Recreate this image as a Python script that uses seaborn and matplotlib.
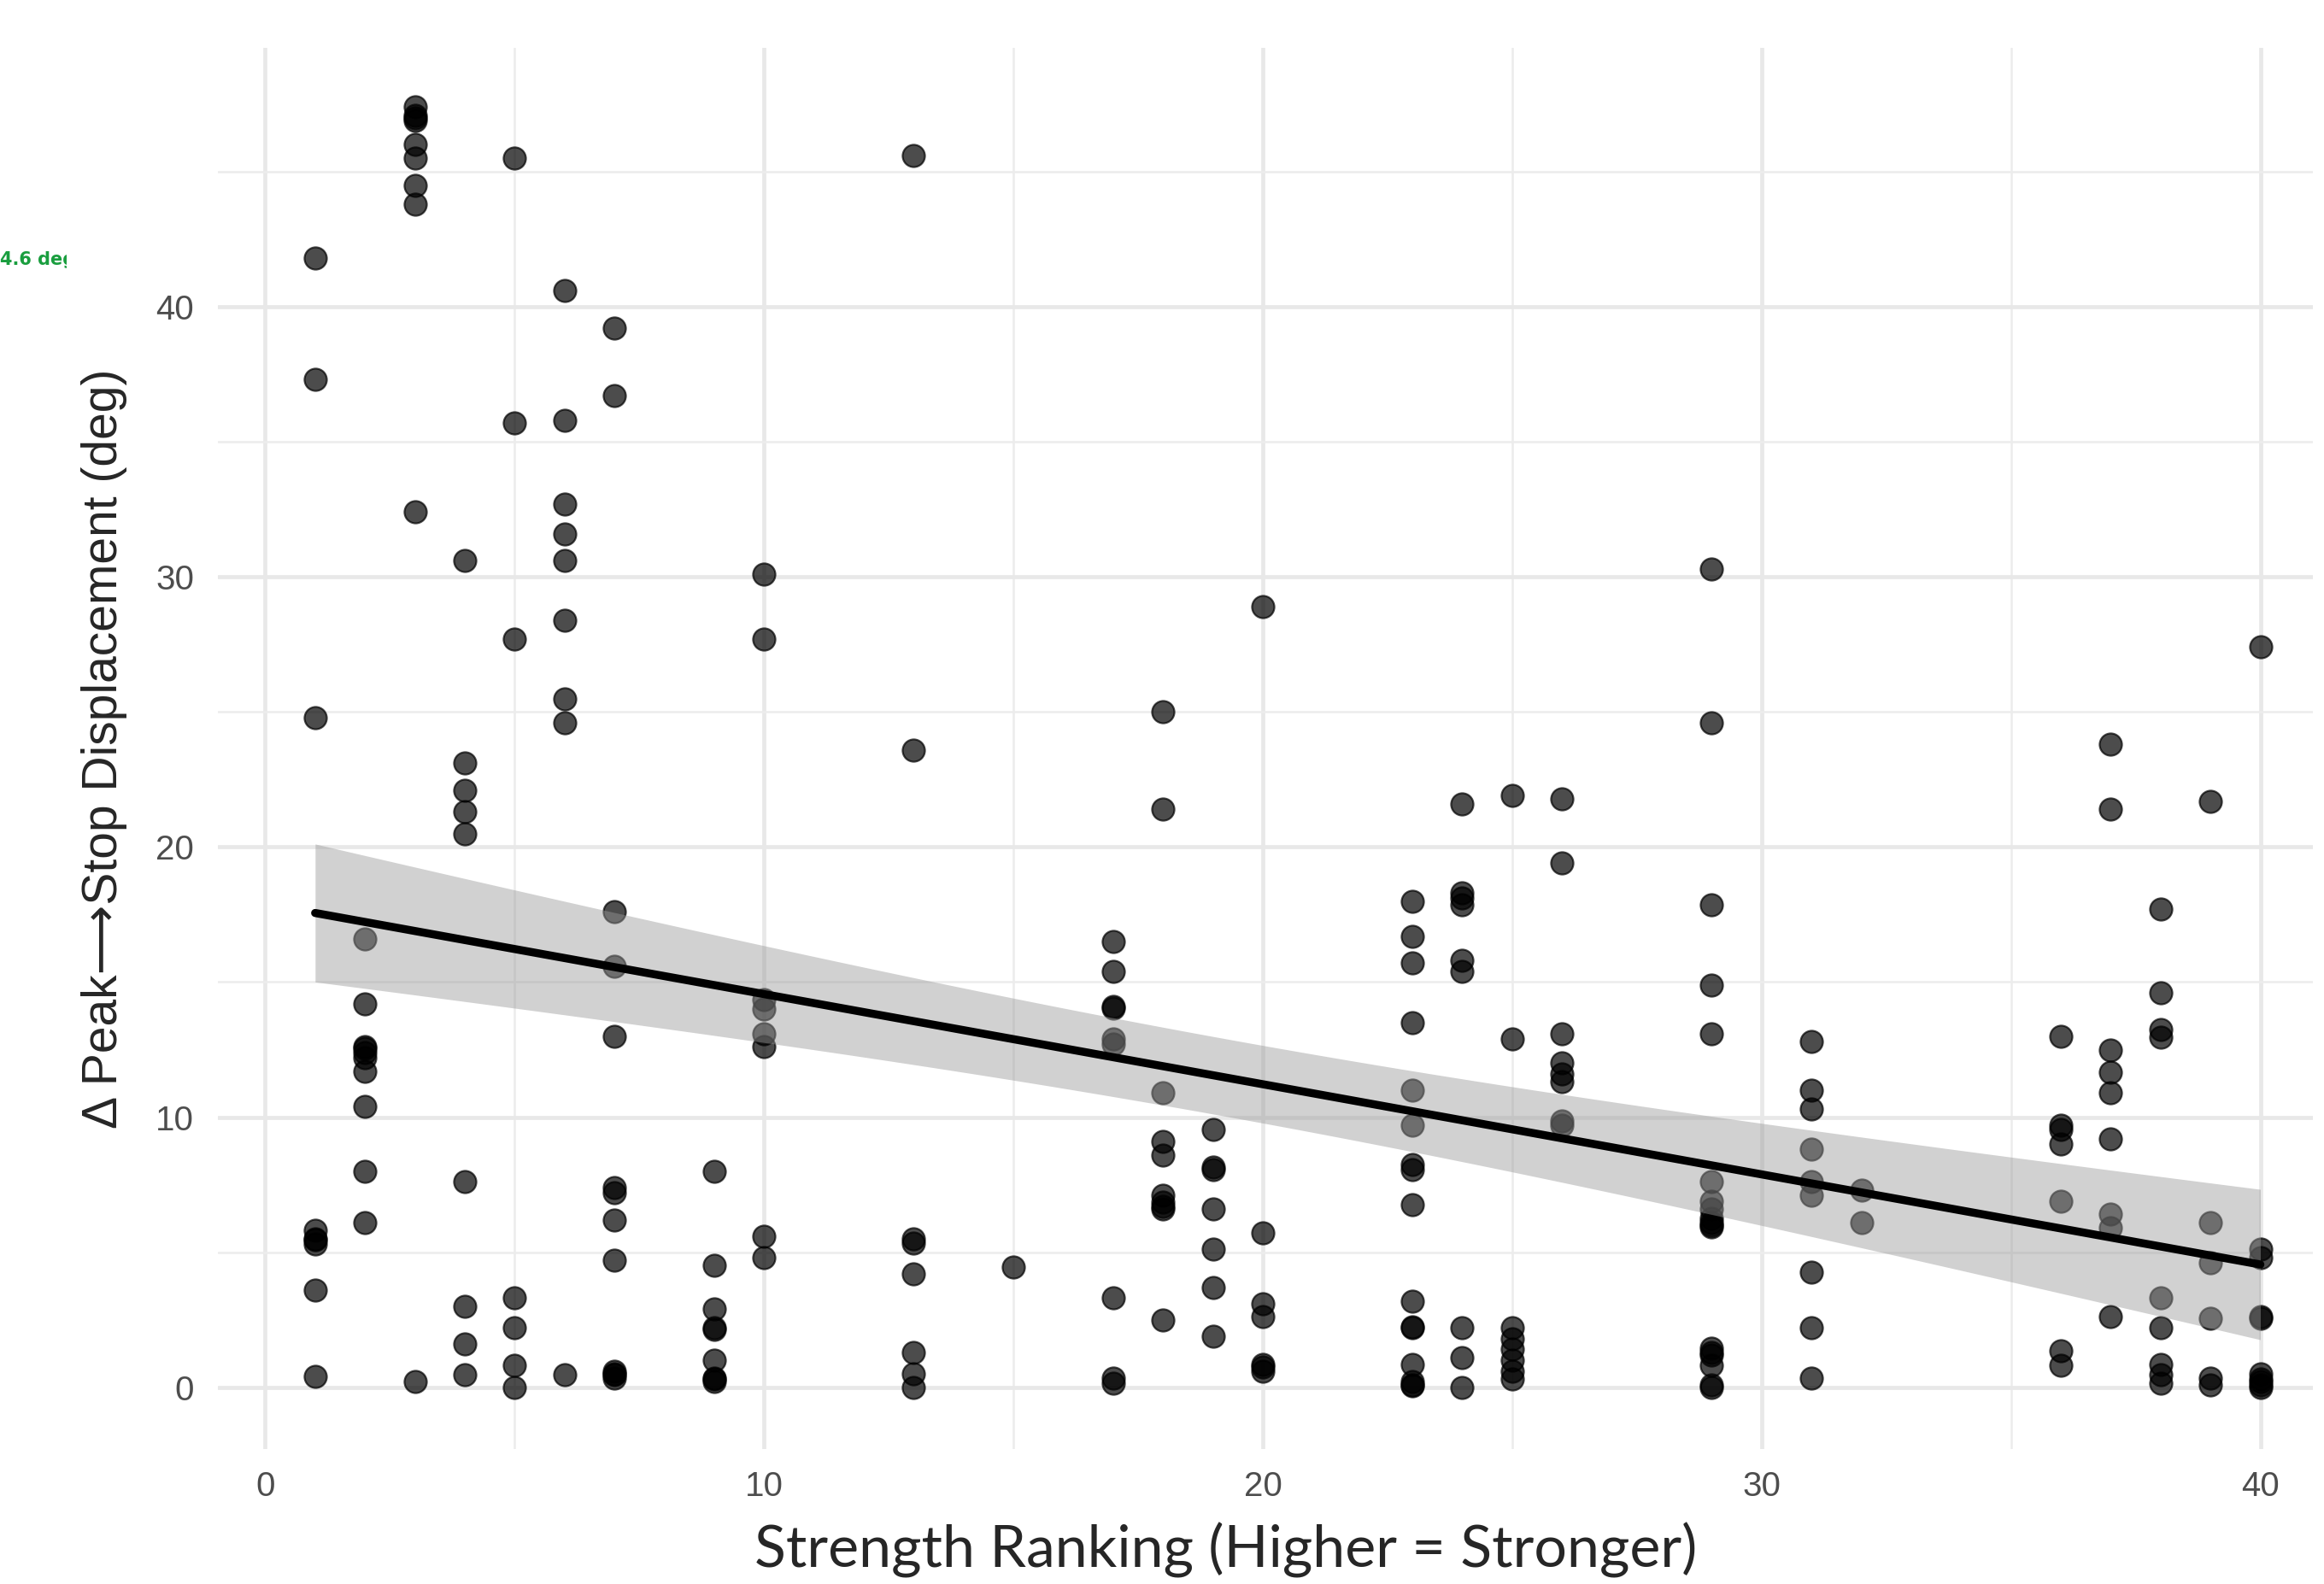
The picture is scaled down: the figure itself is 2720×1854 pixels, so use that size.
# Strength ranking vs peak->stop displacement, scatter + linear fit
import numpy as np
import pandas as pd
import matplotlib
matplotlib.use("Agg")
import matplotlib.pyplot as plt
from matplotlib.ticker import MultipleLocator
import seaborn as sns

# data (grouped by rank)
strength_rank = (
    [1] * 9 + [2] * 10 + [3] * 10 + [4] * 9 + [5] * 7 + [6] * 9 + [7] * 13
    + [9] * 9 + [10] * 8 + [13] * 8 + [15] * 1 + [17] * 9 + [18] * 10
    + [19] * 7 + [20] * 7 + [23] * 16 + [24] * 9 + [25] * 8 + [26] * 8
    + [29] * 18 + [31] * 9 + [32] * 2 + [36] * 7 + [37] * 9 + [38] * 9
    + [39] * 6 + [40] * 10
)
peak_stop_disp = [
    41.8, 37.3, 24.8, 5.8, 5.5, 5.45, 5.3, 3.6, 0.4,                 # 1
    16.6, 14.2, 12.6, 12.55, 12.4, 12.2, 11.7, 10.4, 8.0, 6.1,       # 2
    47.4, 47.1, 47.0, 46.9, 46.0, 45.5, 44.5, 43.8, 32.4, 0.2,       # 3
    30.6, 23.1, 22.1, 21.3, 20.5, 7.6, 3.0, 1.6, 0.45,               # 4
    45.5, 35.7, 27.7, 3.3, 2.2, 0.8, 0.0,                            # 5
    40.6, 35.8, 32.7, 31.6, 30.6, 28.4, 25.5, 24.6, 0.45,            # 6
    39.2, 36.7, 17.6, 15.6, 13.0, 7.4, 7.2, 6.2, 4.7, 0.6, 0.5, 0.45, 0.35,  # 7
    8.0, 4.5, 2.9, 2.2, 2.15, 1.0, 0.35, 0.3, 0.2,                   # 9
    30.1, 27.7, 14.35, 14.0, 13.1, 12.6, 5.6, 4.8,                   # 10
    45.6, 23.6, 5.5, 5.35, 4.2, 1.3, 0.5, 0.0,                       # 13
    4.45,                                                            # 15
    16.5, 15.4, 14.1, 14.05, 12.9, 12.7, 3.3, 0.35, 0.15,            # 17
    25.0, 21.4, 10.9, 9.1, 8.6, 7.1, 6.85, 6.7, 6.6, 2.5,            # 18
    9.55, 8.15, 8.05, 6.6, 5.1, 3.7, 1.9,                            # 19
    28.9, 5.7, 3.1, 2.6, 0.85, 0.75, 0.6,                            # 20
    18.0, 16.7, 15.7, 13.5, 11.0, 9.7, 8.25, 8.05, 6.75, 3.2, 2.25, 2.2, 0.85, 0.2, 0.1, 0.05,  # 23
    21.6, 18.3, 18.1, 17.85, 15.8, 15.4, 2.2, 1.1, 0.0,              # 24
    21.9, 12.9, 2.2, 1.8, 1.4, 1.0, 0.6, 0.3,                        # 25
    21.8, 19.4, 13.1, 12.0, 11.6, 11.3, 9.85, 9.7,                   # 26
    30.3, 24.6, 17.85, 14.9, 13.1, 7.6, 6.9, 6.6, 6.25, 6.1, 6.0, 5.95,
    1.45, 1.3, 1.2, 0.8, 0.1, 0.0,                                   # 29
    12.8, 11.0, 10.3, 8.8, 7.6, 7.1, 4.25, 2.2, 0.35,                # 31
    7.3, 6.1,                                                        # 32
    13.0, 9.7, 9.55, 9.0, 6.9, 1.35, 0.8,                            # 36
    23.8, 21.4, 12.5, 11.65, 10.9, 9.2, 6.4, 5.9, 2.6,               # 37
    17.7, 14.6, 13.25, 12.95, 3.3, 2.2, 0.85, 0.45, 0.15,            # 38
    21.7, 6.1, 4.6, 2.55, 0.35, 0.1,                                 # 39
    27.4, 5.1, 4.8, 2.6, 2.55, 0.5, 0.3, 0.2, 0.1, 0.0,              # 40
]
x_ticks = [0, 10, 20, 30, 40]
y_ticks = [0, 10, 20, 30, 40]
side_note = "4.6 deg"

df = pd.DataFrame({"rank": strength_rank, "disp": peak_stop_disp})

sns.set_theme(style="white")
plt.rcParams["font.family"] = ["Liberation Sans", "DejaVu Sans"]

fig = plt.figure(figsize=(13.6, 9.27), dpi=200)
ax = fig.add_axes([0.09375, 0.085, 0.9014, 0.885])

sns.regplot(data=df, x="rank", y="disp", ax=ax, ci=None,
            scatter_kws=dict(s=88, color="black", alpha=0.7,
                             edgecolors="black", linewidths=0.8, zorder=2),
            line_kws=dict(color="black", lw=3.4, zorder=4))

# ggplot-style (t-based) 95% confidence ribbon for the OLS fit
x = df["rank"].to_numpy(float)
y = df["disp"].to_numpy(float)
n = len(x)
slope, icpt = np.polyfit(x, y, 1)
resid = y - (icpt + slope * x)
s = np.sqrt(np.sum(resid ** 2) / (n - 2))
grid = np.linspace(x.min(), x.max(), 80)
se = s * np.sqrt(1 / n + (grid - x.mean()) ** 2 / np.sum((x - x.mean()) ** 2))
t975 = 1.970
fit = icpt + slope * grid
ax.fill_between(grid, fit - t975 * se, fit + t975 * se, color="#999999",
                alpha=0.45, lw=0, zorder=3)

ax.set_xlim(-0.95, 41.05)
ax.set_ylim(-2.3, 49.6)
ax.set_xticks(x_ticks)
ax.set_yticks(y_ticks)
ax.xaxis.set_minor_locator(MultipleLocator(5))
ax.yaxis.set_minor_locator(MultipleLocator(5))
ax.grid(which="major", color="#e8e8e8", lw=1.7)
ax.grid(which="minor", color="#ececec", lw=0.9)
ax.set_axisbelow(True)
for sp in ax.spines.values():
    sp.set_visible(False)
ax.tick_params(which="both", length=0, labelsize=14.5, labelcolor="#4d4d4d")
ax.tick_params(axis="y", pad=10)
ax.tick_params(axis="x", pad=9)

ax.set_xlabel("")
ax.set_ylabel("Δ Peak⟶Stop Displacement (deg)", fontsize=20.5, labelpad=12)

fig.text(0.5276, 0.004, "Strength Ranking (Higher = Stronger)",
         ha="center", va="bottom", fontsize=24.5, family=["Lato", "DejaVu Sans"])

# clipped green annotation at the far left
nax = fig.add_axes([0, 0.811, 78 / 2720, 0.05])
nax.set_axis_off()
nax.text(0.0, 0.5, side_note, transform=nax.transAxes, color="#1a9e3f",
         fontsize=7.5, fontweight="bold", va="center", ha="left",
         family="DejaVu Sans", clip_on=True)

fig.savefig("out.png", dpi=200, facecolor="white")
